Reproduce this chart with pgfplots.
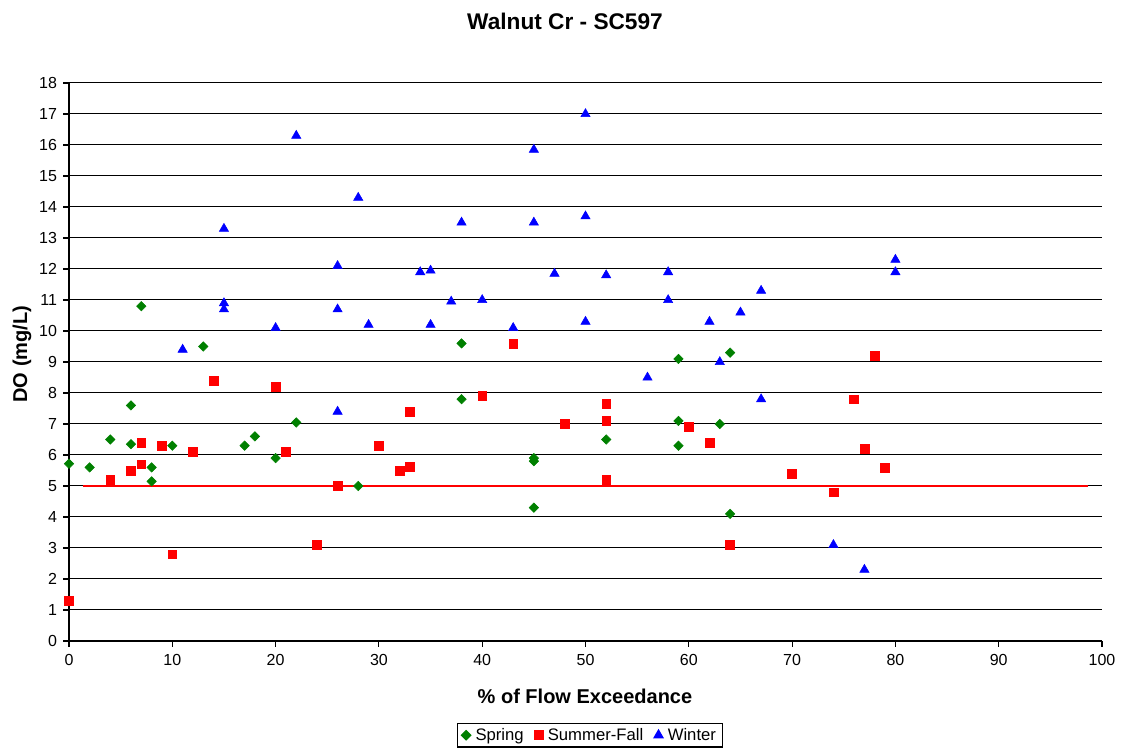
\documentclass[border=0pt]{standalone}
\usepackage{pgfplots}
\pgfplotsset{compat=1.18}
\usepackage{fontspec}
\setmainfont{Liberation Sans}
\definecolor{sgreen}{RGB}{0,128,0}
\definecolor{sred}{RGB}{255,0,0}
\definecolor{sblue}{RGB}{0,0,255}
\begin{document}
\begin{tikzpicture}[x=1pt,y=1pt]
\useasboundingbox (-51.75pt,-80.25pt) rectangle ++(842.25pt,561pt);
\begin{axis}[
  at={(0,0)}, anchor=south west,
  scale only axis, width=774.75pt, height=418.5pt,
  xmin=0, xmax=100, ymin=0, ymax=18,
  xtick={0,10,...,100}, ytick={0,1,...,18},
  axis x line*=bottom, axis y line*=left,
  axis line style={black, line width=1.4pt},
  tick align=outside, major tick length=4.5pt,
  tick style={black, line width=0.8pt},
  ymajorgrids, grid style={black, line width=0.75pt},
  /pgf/number format/assume math mode=true,
  ticklabel style={font=\fontsize{12}{14}\selectfont},
  yticklabel style={xshift=-1pt},
  xticklabel style={yshift=-2pt},
  xlabel={\textbf{\% of Flow Exceedance}},
  ylabel={\textbf{DO (mg/L)}},
  label style={font=\fontsize{15}{17}\selectfont},
  xlabel style={at={(axis description cs:0.4995,-0.0986)}, anchor=center},
  ylabel style={at={(axis description cs:-0.0455,0.514)}, anchor=center},
  clip=false,
  legend style={at={(axis description cs:0.5044,-0.147)}, anchor=north, draw=black, line width=0.8pt,
    legend columns=-1, font=\fontsize{12.5}{14}\selectfont,
    inner xsep=3pt, inner ysep=1.5pt,
    /tikz/every odd column/.append style={column sep=1.5pt},
    /tikz/every even column/.append style={column sep=6pt}},
  legend cell align=left,
]
\addplot[only marks, mark=square*, mark size=2.5pt, sgreen,
  every mark/.append style={rotate=45}] coordinates {
(0,5.72) (2,5.6) (4,6.5) (6,7.6) (6,6.35) (7,10.8) (8,5.6) (8,5.15)
(10,6.3) (13,9.5) (17,6.3) (18,6.6) (20,5.9) (22,7.05) (28,5.0)
(38,7.8) (38,9.6) (45,5.9) (45,5.8) (45,4.3) (52,6.5) (59,9.1)
(59,7.1) (59,6.3) (63,7.0) (64,9.3) (64,4.1)
};
\addlegendentry{Spring}
\addplot[only marks, mark=square*, mark size=3.3pt, sred] coordinates {
(0,1.3) (4,5.2) (6,5.5) (7,6.4) (7,5.7) (9,6.3) (10,2.8) (12,6.1)
(14,8.4) (20,8.2) (21,6.1) (24,3.1) (26,5.0) (30,6.3) (32,5.5) (33,5.62)
(33,7.4) (40,7.9) (43,9.6) (48,7.0) (52,7.65) (52,7.1) (52,5.2) (60,6.9)
(62,6.4) (64,3.1) (70,5.4) (74,4.8) (76,7.8) (77,6.2) (78,9.2) (79,5.6)
};
\addlegendentry{Summer-Fall}
\addplot[only marks, mark=triangle*, mark size=4pt, sblue] coordinates {
(11,9.4) (15,13.3) (15,10.9) (15,10.7) (20,10.1) (22,16.3) (26,12.1)
(26,10.7) (26,7.4) (28,14.3) (29,10.2) (34,11.9) (35,11.95) (35,10.2)
(37,10.95) (38,13.5) (40,11.0) (43,10.1) (45,15.85) (45,13.5) (47,11.85)
(50,17.0) (50,13.7) (50,10.3) (52,11.8) (56,8.5) (58,11.9) (58,11.0)
(62,10.3) (63,9.0) (65,10.6) (67,11.3) (67,7.8) (74,3.1) (77,2.3)
(80,12.3) (80,11.9)
};
\addlegendentry{Winter}
\addplot[sred, line width=1.5pt, mark=none, forget plot] coordinates {(1.35,5) (98.6,5)};
\end{axis}
\node[font=\bfseries\fontsize{17}{19}\selectfont] at (372pt,465pt) {Walnut Cr - SC597};
\end{tikzpicture}
\end{document}
